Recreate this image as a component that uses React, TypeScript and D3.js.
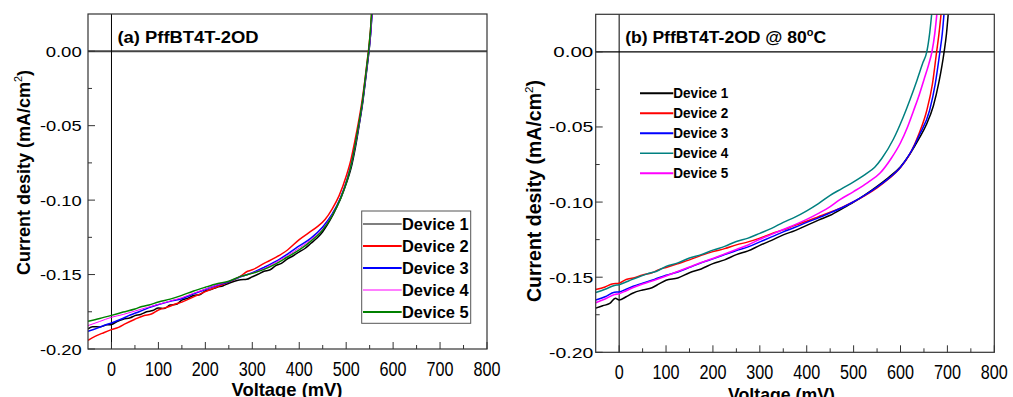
import * as d3 from "d3";

// ---- data (voltage in mV, current density in mA/cm2) ----
const deviceLabels = ["Device 1", "Device 2", "Device 3", "Device 4", "Device 5"];
const colorsA = ["#000000", "#ff0000", "#0000ff", "#ff00ff", "#008000"];
const colorsB = ["#000000", "#ff0000", "#0000ff", "#008080", "#ff00ff"];

const xTicks = [0, 100, 200, 300, 400, 500, 600, 700, 800];
const xMinor = [50, 150, 250, 350, 450, 550, 650, 750];
const yTicks = [-0.2, -0.15, -0.1, -0.05, 0];
const yMinor = [-0.175, -0.125, -0.075, -0.025];

type Pt = [number, number];

// (a) PffBT4T-2OD
const devA1: Pt[] = [[-50,-0.1865],[-40,-0.1850],[-25,-0.1852],[-10,-0.1838],[0,-0.1835],[12,-0.1815],[25,-0.1800],[40,-0.1790],[50,-0.1776],[62,-0.1768],[75,-0.1750],[88,-0.1742],[100,-0.1725],[112,-0.1728],[125,-0.1705],[138,-0.1700],[150,-0.1672],[162,-0.1660],[175,-0.1640],[188,-0.1635],[200,-0.1610],[212,-0.1600],[225,-0.1585],[238,-0.1575],[250,-0.1558],[262,-0.1545],[275,-0.1535],[288,-0.1532],[300,-0.1515],[312,-0.1498],[325,-0.1478],[338,-0.1468],[350,-0.1440],[362,-0.1425],[375,-0.1395],[388,-0.1372],[400,-0.1348],[412,-0.1325],[425,-0.1290],[438,-0.1255],[450,-0.1212],[460,-0.1165],[470,-0.1110],[480,-0.1045],[490,-0.0975],[500,-0.0890],[510,-0.0790],[520,-0.0640],[528,-0.0490],[535,-0.0350],[541,-0.0200],[546,-0.0070],[549,0.0010],[552,0.0120],[556,0.0300]];
const devA2: Pt[] = [[-50,-0.1942],[-35,-0.1915],[-20,-0.1895],[0,-0.1870],[15,-0.1855],[30,-0.1830],[50,-0.1800],[70,-0.1775],[85,-0.1765],[100,-0.1738],[120,-0.1718],[135,-0.1700],[150,-0.1685],[175,-0.1650],[200,-0.1615],[225,-0.1582],[250,-0.1550],[275,-0.1510],[290,-0.1478],[300,-0.1468],[325,-0.1425],[350,-0.1385],[375,-0.1335],[400,-0.1265],[420,-0.1220],[440,-0.1175],[455,-0.1130],[470,-0.1060],[485,-0.0970],[500,-0.0840],[510,-0.0730],[518,-0.0610],[526,-0.0480],[533,-0.0350],[540,-0.0190],[545,-0.0060],[548,0.0020],[552,0.0150],[555,0.0300]];
const devA3: Pt[] = [[-50,-0.1881],[-30,-0.1860],[-15,-0.1840],[0,-0.1825],[20,-0.1800],[40,-0.1772],[60,-0.1748],[80,-0.1722],[100,-0.1702],[125,-0.1680],[150,-0.1662],[175,-0.1630],[200,-0.1600],[225,-0.1572],[250,-0.1548],[275,-0.1515],[300,-0.1488],[325,-0.1452],[350,-0.1412],[375,-0.1362],[400,-0.1308],[425,-0.1255],[450,-0.1180],[470,-0.1095],[488,-0.0985],[502,-0.0860],[512,-0.0745],[520,-0.0620],[528,-0.0480],[535,-0.0340],[541,-0.0190],[546,-0.0060],[549,0.0020],[553,0.0150],[556,0.0300]];
const devA4: Pt[] = [[-50,-0.1843],[-25,-0.1815],[0,-0.1787],[25,-0.1768],[50,-0.1745],[75,-0.1722],[100,-0.1700],[125,-0.1678],[150,-0.1655],[175,-0.1625],[200,-0.1598],[225,-0.1570],[250,-0.1545],[275,-0.1515],[300,-0.1490],[325,-0.1460],[350,-0.1418],[375,-0.1372],[400,-0.1322],[425,-0.1265],[450,-0.1192],[470,-0.1100],[488,-0.0990],[502,-0.0862],[512,-0.0745],[520,-0.0620],[528,-0.0480],[535,-0.0340],[541,-0.0190],[546,-0.0060],[549,0.0020],[553,0.0150],[556,0.0300]];
const devA5: Pt[] = [[-50,-0.1814],[-25,-0.1795],[0,-0.1774],[25,-0.1752],[50,-0.1731],[65,-0.1715],[80,-0.1705],[100,-0.1684],[125,-0.1665],[150,-0.1640],[175,-0.1610],[200,-0.1585],[225,-0.1562],[250,-0.1545],[275,-0.1512],[300,-0.1492],[325,-0.1465],[350,-0.1428],[375,-0.1382],[400,-0.1335],[425,-0.1275],[450,-0.1200],[470,-0.1105],[488,-0.0990],[503,-0.0855],[512,-0.0745],[520,-0.0615],[528,-0.0470],[535,-0.0330],[540,-0.0200],[545,-0.0070],[548,0.0010],[552,0.0150],[555,0.0300]];

// (b) PffBT4T-2OD @ 80 C
const devB1: Pt[] = [[-50,-0.1706],[-35,-0.1690],[-20,-0.1675],[-8,-0.1640],[0,-0.1652],[15,-0.1630],[30,-0.1605],[50,-0.1585],[70,-0.1570],[85,-0.1545],[100,-0.1520],[125,-0.1505],[150,-0.1470],[175,-0.1445],[200,-0.1410],[225,-0.1385],[250,-0.1350],[275,-0.1325],[300,-0.1288],[325,-0.1255],[350,-0.1218],[375,-0.1190],[400,-0.1155],[425,-0.1120],[450,-0.1088],[475,-0.1045],[500,-0.1000],[525,-0.0950],[550,-0.0895],[575,-0.0835],[600,-0.0765],[620,-0.0680],[640,-0.0575],[655,-0.0485],[670,-0.0360],[682,-0.0200],[693,0.0000],[698,0.0120],[703,0.0300]];
const devB2: Pt[] = [[-50,-0.1582],[-30,-0.1565],[-15,-0.1545],[0,-0.1540],[15,-0.1515],[30,-0.1505],[50,-0.1485],[70,-0.1470],[85,-0.1450],[100,-0.1435],[125,-0.1410],[150,-0.1385],[175,-0.1355],[200,-0.1330],[225,-0.1310],[250,-0.1285],[275,-0.1265],[300,-0.1240],[325,-0.1210],[350,-0.1185],[375,-0.1155],[400,-0.1128],[425,-0.1098],[450,-0.1068],[475,-0.1035],[500,-0.0998],[525,-0.0955],[550,-0.0905],[575,-0.0845],[600,-0.0770],[620,-0.0680],[640,-0.0540],[656,-0.0390],[668,-0.0215],[677,0.0000],[682,0.0120],[688,0.0300]];
const devB3: Pt[] = [[-50,-0.1652],[-30,-0.1630],[-10,-0.1600],[0,-0.1598],[15,-0.1580],[30,-0.1560],[50,-0.1540],[75,-0.1515],[100,-0.1487],[125,-0.1465],[150,-0.1435],[175,-0.1405],[200,-0.1378],[225,-0.1350],[250,-0.1322],[275,-0.1298],[300,-0.1265],[325,-0.1232],[350,-0.1198],[375,-0.1168],[400,-0.1135],[425,-0.1105],[450,-0.1072],[475,-0.1038],[500,-0.0998],[525,-0.0952],[550,-0.0900],[575,-0.0842],[600,-0.0768],[620,-0.0678],[640,-0.0555],[662,-0.0390],[674,-0.0215],[684,0.0000],[689,0.0120],[694,0.0300]];
const devB4: Pt[] = [[-50,-0.1602],[-30,-0.1580],[-10,-0.1555],[0,-0.1550],[20,-0.1525],[40,-0.1500],[60,-0.1478],[80,-0.1460],[100,-0.1428],[125,-0.1405],[150,-0.1372],[175,-0.1350],[200,-0.1320],[225,-0.1295],[250,-0.1262],[275,-0.1240],[300,-0.1208],[325,-0.1175],[350,-0.1135],[375,-0.1100],[400,-0.1058],[425,-0.1010],[450,-0.0955],[475,-0.0910],[500,-0.0865],[525,-0.0815],[545,-0.0768],[560,-0.0710],[585,-0.0580],[605,-0.0440],[620,-0.0320],[635,-0.0190],[648,-0.0070],[656,0.0000],[662,0.0120],[668,0.0300]];
const devB5: Pt[] = [[-50,-0.1670],[-30,-0.1645],[-10,-0.1615],[0,-0.1610],[15,-0.1590],[30,-0.1568],[50,-0.1545],[75,-0.1520],[100,-0.1492],[125,-0.1462],[150,-0.1432],[175,-0.1402],[200,-0.1375],[225,-0.1345],[250,-0.1315],[275,-0.1285],[300,-0.1248],[325,-0.1215],[350,-0.1182],[375,-0.1150],[400,-0.1115],[425,-0.1075],[450,-0.1030],[470,-0.0985],[500,-0.0930],[530,-0.0870],[557,-0.0805],[580,-0.0710],[600,-0.0605],[615,-0.0500],[628,-0.0390],[640,-0.0285],[650,-0.0185],[660,-0.0085],[667,0.0000],[673,0.0120],[679,0.0300]];

const seriesA = [devA1, devA2, devA3, devA4, devA5];
const seriesB = [devB1, devB2, devB3, devB4, devB5];

const FONT = "'Liberation Sans', Arial, sans-serif";

interface Box { left: number; right: number; top: number; bottom: number }

interface PanelProps {
  id: string;
  box: Box;
  series: Pt[][];
  colors: string[];
  widths: number[];
  title: React.ReactNode;
  titleLen: number;
  zeroH: { stroke: string; width: number };
  yLabel: { x: number; y: number; size: number };
  xLabel: { x: number; y: number; len: number };
  yTickLen: (s: string) => number;
  yTickGap: number;
  legend: React.ReactNode;
}

const Panel = ({ id, box, series, colors, widths, title, titleLen, zeroH, yLabel, xLabel, yTickLen, yTickGap, legend }: PanelProps) => {
  const x = d3.scaleLinear().domain([-50, 800]).range([box.left, box.right]);
  const y = d3.scaleLinear().domain([-0.2, 0.025]).range([box.bottom, box.top]);
  const line = d3
    .line<Pt>()
    .x((d) => x(d[0]))
    .y((d) => y(d[1]))
    .curve(d3.curveMonotoneX);

  return (
    <g>
      <defs>
        <clipPath id={`clip-${id}`}>
          <rect x={box.left} y={box.top} width={box.right - box.left} height={box.bottom - box.top} />
        </clipPath>
      </defs>

      {/* zero lines */}
      <line x1={box.left} x2={box.right} y1={y(0)} y2={y(0)} stroke={zeroH.stroke} strokeWidth={zeroH.width} />
      <line x1={x(0)} x2={x(0)} y1={box.top} y2={box.bottom} stroke="#000" strokeWidth={1} />

      {/* curves */}
      <g clipPath={`url(#clip-${id})`}>
        {series.map((s, i) => (
          <path key={i} d={line(s) ?? ""} fill="none" stroke={colors[i]} strokeWidth={widths[i]} strokeLinejoin="round" />
        ))}
      </g>

      {/* frame */}
      <rect x={box.left} y={box.top} width={box.right - box.left} height={box.bottom - box.top} fill="none" stroke="#333" strokeWidth={1.2} />

      {/* x ticks (inward) */}
      {xTicks.map((t) => (
        <g key={`xt${t}`}>
          <line x1={x(t)} x2={x(t)} y1={box.bottom} y2={box.bottom - 7} stroke="#333" strokeWidth={1} />
          <text x={x(t)} y={box.bottom + 27} textAnchor="middle" fontSize={20} fontFamily={FONT} textLength={9 * String(t).length} lengthAdjust="spacingAndGlyphs">
            {t}
          </text>
        </g>
      ))}
      {xMinor.map((t) => (
        <line key={`xm${t}`} x1={x(t)} x2={x(t)} y1={box.bottom} y2={box.bottom - 4} stroke="#333" strokeWidth={1} />
      ))}

      {/* y ticks (inward) */}
      {yTicks.map((t) => {
        const label = t.toFixed(2);
        return (
          <g key={`yt${t}`}>
            <line x1={box.left} x2={box.left + 7} y1={y(t)} y2={y(t)} stroke="#333" strokeWidth={1} />
            <text x={box.left - yTickGap} y={y(t) + 5.5} textAnchor="end" fontSize={15.5} fontFamily={FONT} textLength={yTickLen(label)} lengthAdjust="spacingAndGlyphs">
              {label}
            </text>
          </g>
        );
      })}
      {yMinor.map((t) => (
        <line key={`ym${t}`} x1={box.left} x2={box.left + 4} y1={y(t)} y2={y(t)} stroke="#333" strokeWidth={1} />
      ))}

      {/* title */}
      <text x={x(0) + 6} y={box.top + 29} fontSize={16} fontWeight="bold" fontFamily={FONT} textLength={titleLen} lengthAdjust="spacingAndGlyphs">
        {title}
      </text>

      {/* axis labels */}
      <text transform={`translate(${yLabel.x},${yLabel.y}) rotate(-90)`} textAnchor="middle" fontSize={yLabel.size} fontWeight="bold" fontFamily={FONT}>
        Current desity (mA/cm<tspan fontSize={yLabel.size * 0.6} fontWeight="normal" dy={-8}>2</tspan><tspan dy={8}>)</tspan>
      </text>
      <text x={xLabel.x} y={xLabel.y} textAnchor="middle" fontSize={19} fontWeight="bold" fontFamily={FONT} textLength={xLabel.len} lengthAdjust="spacingAndGlyphs">
        Voltage (mV)
      </text>

      {legend}
    </g>
  );
};

export default function App() {
  const widthsA = [1.5, 1.5, 1.5, 1, 1.5];
  const widthsB = [1.5, 1.5, 1.5, 1.5, 1.6];

  const legendA = (
    <g>
      <rect x={361.7} y={211} width={109} height={112.3} fill="#fff" stroke="#555" strokeWidth={1} />
      {deviceLabels.map((lab, i) => (
        <g key={lab}>
          <line x1={363} x2={401.7} y1={224 + i * 22} y2={224 + i * 22} stroke={colorsA[i]} strokeWidth={i === 0 || i === 3 ? 1.2 : 2.2} />
          <text x={402} y={224 + i * 22 + 6} fontSize={16.3} fontWeight="bold" fontFamily={FONT} textLength={66.7} lengthAdjust="spacingAndGlyphs">
            {lab}
          </text>
        </g>
      ))}
    </g>
  );

  const legendB = (
    <g>
      {deviceLabels.map((lab, i) => (
        <g key={lab}>
          <line x1={640} x2={673.3} y1={93.3 + i * 20} y2={93.3 + i * 20} stroke={colorsB[i]} strokeWidth={i === 3 ? 1.5 : 2} />
          <text x={673.3} y={93.3 + i * 20 + 5} fontSize={14} fontWeight="bold" fontFamily={FONT} textLength={55} lengthAdjust="spacingAndGlyphs">
            {lab}
          </text>
        </g>
      ))}
    </g>
  );

  return (
    <svg width={1013} height={397} style={{ position: "absolute", left: 0, top: 0, background: "#fff" }}>
      <Panel
        id="a"
        box={{ left: 88, right: 487, top: 14, bottom: 349 }}
        series={seriesA}
        colors={colorsA}
        widths={widthsA}
        title="(a) PffBT4T-2OD"
        titleLen={141}
        zeroH={{ stroke: "#444", width: 2 }}
        yLabel={{ x: 30, y: 172.5, size: 18 }}
        xLabel={{ x: 287, y: 396, len: 111 }}
        yTickLen={(s) => (s.startsWith("-") ? 41.7 : 36)}
        yTickGap={6.3}
        legend={legendA}
      />
      <Panel
        id="b"
        box={{ left: 595.7, right: 994.3, top: 14.3, bottom: 352.3 }}
        series={seriesB}
        colors={colorsB}
        widths={widthsB}
        title={
          <>
            (b) PffBT4T-2OD @ 80<tspan fontSize={10} dy={-7}>o</tspan>
            <tspan dy={7}>C</tspan>
          </>
        }
        titleLen={201}
        zeroH={{ stroke: "#000", width: 1.2 }}
        yLabel={{ x: 541, y: 191, size: 19.5 }}
        xLabel={{ x: 781.5, y: 401, len: 107 }}
        yTickLen={(s) => (s.startsWith("-") ? 44.3 : 40)}
        yTickGap={2.4}
        legend={legendB}
      />
    </svg>
  );
}
